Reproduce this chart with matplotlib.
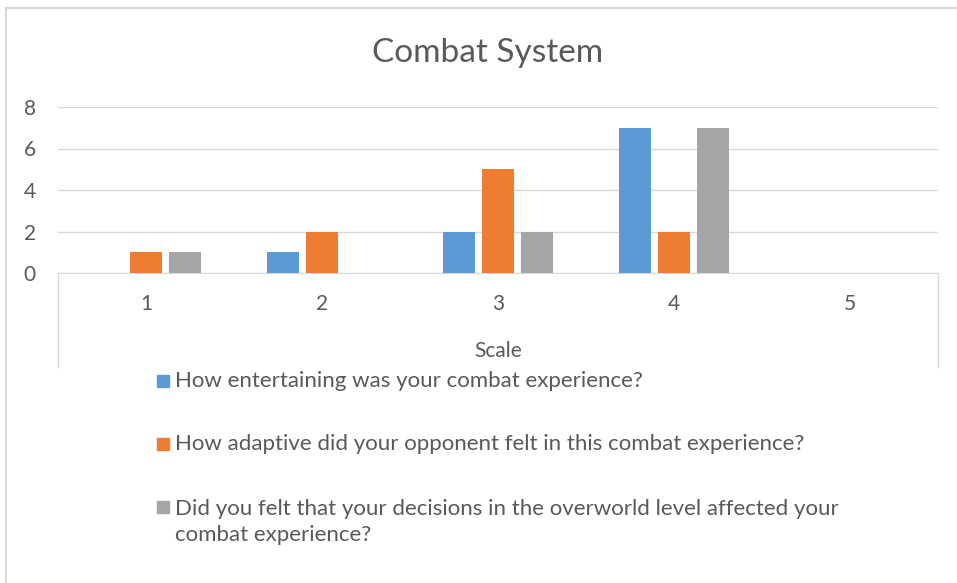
import matplotlib
matplotlib.use("Agg")
import matplotlib.pyplot as plt
from matplotlib.patches import Rectangle
from matplotlib.lines import Line2D

plt.rcParams['font.family'] = ['Lato', 'DejaVu Sans']

categories = ["1", "2", "3", "4", "5"]
series_names = [
    "How entertaining was your combat experience?",
    "How adaptive did your opponent felt in this combat experience?",
    "Did you felt that your decisions in the overworld level affected your\ncombat experience?",
]
entertaining = [0, 1, 2, 7, 0]
adaptive = [1, 2, 5, 2, 0]
overworld = [1, 0, 2, 7, 0]
colors = ["#5B9BD5", "#ED7D31", "#A5A5A5"]
y_ticks = [0, 2, 4, 6, 8]
title = "Combat System"
x_label = "Scale"

W, H = 957, 583
fig = plt.figure(figsize=(W / 100, H / 100), dpi=100)

def fx(px):
    return px / W

def fy(py):
    return 1 - py / H

TXT = "#595959"

# outer chart frame
fig.add_artist(Line2D([fx(6), fx(957)], [fy(8), fy(8)], color="#D9D9D9", lw=1.5))
fig.add_artist(Line2D([fx(6), fx(6)], [fy(8), fy(583)], color="#D9D9D9", lw=1.5))

ax = fig.add_axes([fx(58), fy(273), fx(938) - fx(58), fy(107) - fy(273)])
x = list(range(1, len(categories) + 1))
offsets = [-0.22, 0.0, 0.22]
width = 0.18
for vals, off, c in zip([entertaining, adaptive, overworld], offsets, colors):
    ax.bar([xi + off for xi in x], vals, width=width, color=c, zorder=3)

ax.set_xlim(0.5, len(categories) + 0.5)
ax.set_ylim(0, 8)
ax.set_yticks(y_ticks)
ax.set_xticks(x)
ax.set_xticklabels(categories)
ax.grid(axis="y", color="#D9D9D9", lw=1, zorder=0)
for s in ["top", "right", "left"]:
    ax.spines[s].set_visible(False)
ax.spines["bottom"].set_color("#D9D9D9")
ax.tick_params(axis="y", length=0, pad=16, labelsize=15, labelcolor=TXT)
ax.tick_params(axis="x", length=0, pad=15, labelsize=15, labelcolor=TXT)

# category axis side lines extending below the axis
for xe in [0.0, 1.0]:
    ax.add_line(Line2D([xe, xe], [0, -(367 - 273) / (273 - 107)], transform=ax.transAxes,
                       color="#D9D9D9", lw=1, clip_on=False))

fig.text(fx(498), fy(351), x_label, ha="center", va="center", fontsize=15, color=TXT)
fig.text(fx(488), fy(53), title, ha="center", va="center", fontsize=24, color=TXT)

# legend
rows = [381, 444, 507]
for name, c, ry in zip(series_names, colors, rows):
    fig.add_artist(Rectangle((fx(157), fy(ry + 6)), fx(12), fy(0) - fy(12), color=c,
                             transform=fig.transFigure))
    nlines = name.count("\n") + 1
    fig.text(fx(175), fy(ry + 15 * (nlines - 1)), name, ha="left", va="center",
             fontsize=16, color=TXT, linespacing=1.35)

fig.savefig("out.png", dpi=100)
